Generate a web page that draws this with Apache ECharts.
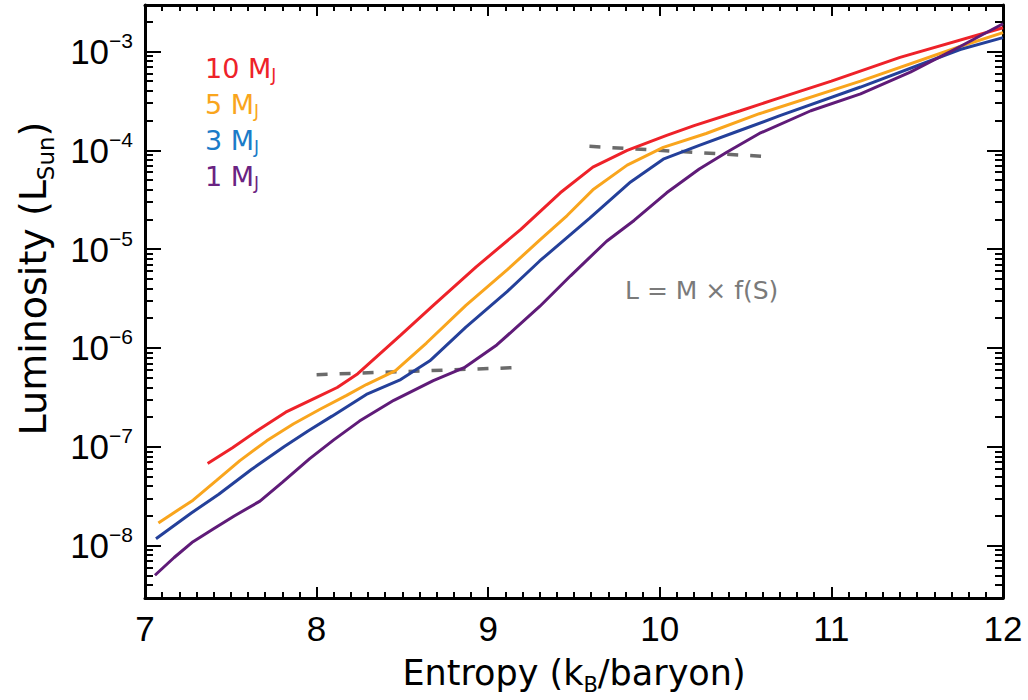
<!DOCTYPE html>
<html lang="en">
<head>
<meta charset="UTF-8">
<title>Luminosity vs entropy</title>
<script src="https://cdn.jsdelivr.net/npm/echarts@6/dist/echarts.min.js"></script>
<style>
  html, body { margin: 0; padding: 0; background: #fff; }
  #main { width: 1028px; height: 700px; }
</style>
</head>
<body>
<div id="main"></div>
<script>
// entropy (k_B/baryon) and log10 luminosity (L_sun)
var S_10 = [7.365, 7.51, 7.66, 7.82, 8.00, 8.12, 8.24, 8.49, 8.68, 8.93, 9.19, 9.42, 9.61, 9.81, 10.04, 10.20, 10.47, 10.68, 11.00, 11.40, 12.00];
var logL_10 = [-7.17, -7.01, -6.83, -6.65, -6.50, -6.40, -6.26, -5.87, -5.57, -5.18, -4.80, -4.43, -4.17, -4.00, -3.85, -3.75, -3.60, -3.48, -3.30, -3.06, -2.76];

var S_5 = [7.078, 7.28, 7.417, 7.553, 7.709, 7.864, 8.02, 8.175, 8.29, 8.46, 8.64, 8.87, 9.11, 9.30, 9.46, 9.61, 9.81, 10.02, 10.27, 10.58, 11.17, 11.75, 12.00];
var logL_5 = [-7.77, -7.54, -7.34, -7.14, -6.94, -6.77, -6.62, -6.48, -6.37, -6.23, -5.95, -5.57, -5.21, -4.91, -4.66, -4.40, -4.15, -3.97, -3.83, -3.63, -3.30, -2.95, -2.81];

var S_3 = [7.064, 7.27, 7.43, 7.62, 7.81, 7.95, 8.09, 8.29, 8.49, 8.66, 8.87, 9.11, 9.30, 9.59, 9.83, 10.02, 10.23, 10.45, 10.70, 11.17, 11.75, 12.00];
var logL_3 = [-7.93, -7.67, -7.48, -7.23, -7.00, -6.84, -6.69, -6.47, -6.32, -6.13, -5.79, -5.43, -5.12, -4.69, -4.32, -4.09, -3.95, -3.81, -3.65, -3.36, -2.98, -2.86];

var S_1 = [7.058, 7.17, 7.28, 7.40, 7.52, 7.67, 7.80, 7.96, 8.10, 8.25, 8.45, 8.68, 8.86, 9.05, 9.30, 9.48, 9.69, 9.85, 10.04, 10.23, 10.39, 10.58, 10.88, 11.17, 11.46, 11.75, 12.00];
var logL_1 = [-8.30, -8.12, -7.96, -7.83, -7.70, -7.55, -7.36, -7.12, -6.93, -6.74, -6.53, -6.33, -6.20, -5.97, -5.58, -5.27, -4.92, -4.71, -4.43, -4.19, -4.02, -3.83, -3.60, -3.43, -3.21, -2.95, -2.72];

// the two dashed guide lines
var guideLowS = [8.00, 9.14];
var guideLowL = [-6.27, -6.20];
var guideHighS = [9.59, 10.59];
var guideHighL = [-3.96, -4.06];

var yDecades = [-8, -7, -6, -5, -4, -3];
var yMin = -8.53, yMax = -2.53;

var colors = ['#ee2229', '#f9a51d', '#24409a', '#5f1b78'];
var labelColors = ['#ee2229', '#f9a51d', '#1b7bc8', '#6a2382'];

function pairs(xs, ys) {
    return xs.map(function (x, i) { return [x, ys[i]]; });
}

// minor ticks at 2..9 x 10^n
var yMinor = [];
for (var n = -9; n <= -3; n++) {
    for (var k = 2; k <= 9; k++) {
        var v = n + Math.log10(k);
        if (v > yMin && v < yMax) yMinor.push(v);
    }
}

var chart = echarts.init(document.getElementById('main'), null, { renderer: 'svg' });

var tickFont = 'Liberation Sans';
var textFont = 'DejaVu Sans';

function xAx(pos, withLabels) {
    return {
        type: 'value', position: pos, min: 7, max: 12, interval: 1,
        axisLine: { onZero: false, lineStyle: { color: '#000', width: 3 } },
        axisTick: { inside: true, length: 11, lineStyle: { color: '#000', width: 2 } },
        minorTick: { show: true, splitNumber: 10, length: 6, lineStyle: { color: '#000', width: 2 } },
        splitLine: { show: false },
        axisLabel: { show: withLabels, margin: 13, fontSize: 35, fontFamily: tickFont, color: '#000' },
        name: withLabels ? '{m|Entropy (k}{s|B}{m|/baryon)}' : '',
        nameLocation: 'middle', nameGap: 52,
        nameTextStyle: {
            rich: {
                m: { fontSize: 35, fontFamily: textFont, color: '#000' },
                s: { fontSize: 21, fontFamily: textFont, color: '#000', padding: [24, 0, 0, 0] }
            }
        }
    };
}

function yAx(pos, major, withLabels) {
    return {
        type: 'value', position: pos, min: yMin, max: yMax,
        axisLine: { show: major, onZero: false, lineStyle: { color: '#000', width: 3 } },
        axisTick: { inside: true, customValues: major ? yDecades : yMinor, length: major ? 16 : 8, lineStyle: { color: '#000', width: 2 } },
        splitLine: { show: false },
        axisLabel: {
            show: withLabels, customValues: yDecades, margin: 12,
            formatter: function (v) { return '{b|10}{e|\u2212' + Math.round(-v) + '}'; },
            rich: {
                b: { fontSize: 35, fontFamily: tickFont, color: '#000' },
                e: { fontSize: 21, fontFamily: tickFont, color: '#000', padding: [0, 0, 22, 0] }
            }
        },
        name: withLabels ? '{m|Luminosity (L}{s|Sun}{m|)}' : '',
        nameLocation: 'middle', nameGap: 88,
        nameTextStyle: {
            padding: [0, 0, 0, 46],
            rich: {
                m: { fontSize: 38, fontFamily: textFont, color: '#000' },
                s: { fontSize: 23, fontFamily: textFont, color: '#000', padding: [25, 0, 0, 0] }
            }
        }
    };
}

var names = ['10 MJ', '5 MJ', '3 MJ', '1 MJ'];
var legendKeys = ['r', 'o', 'b', 'p'];
var legendRich = {};
legendKeys.forEach(function (c, i) {
    legendRich[c] = { fontSize: 27, fontFamily: textFont, color: labelColors[i], lineHeight: 30 };
    legendRich[c + 's'] = { fontSize: 17, fontFamily: textFont, color: labelColors[i], padding: [12, 0, 0, 0] };
});

function curve(name, xs, ys, color) {
    return {
        name: name, type: 'line', data: pairs(xs, ys), showSymbol: false, silent: true,
        lineStyle: { color: color, width: 3 }, itemStyle: { color: color }, z: 3
    };
}

function guide(xs, ys) {
    return {
        type: 'line', data: pairs(xs, ys), showSymbol: false, silent: true,
        lineStyle: { color: '#6b6b6b', width: 3.5, type: [11, 12] }, z: 2
    };
}

chart.setOption({
    backgroundColor: '#fff',
    animation: false,
    grid: { left: 145, right: 25, top: 5, bottom: 98 },
    legend: {
        orient: 'vertical', left: 195, top: 50, icon: 'none', itemWidth: 0, itemHeight: 10, itemGap: 8,
        selectedMode: false,
        data: names,
        formatter: function (name) {
            var c = legendKeys[names.indexOf(name)];
            return '{' + c + '|' + name.replace('J', '') + '}{' + c + 's|J}';
        },
        textStyle: { rich: legendRich }
    },
    xAxis: [xAx('bottom', true), xAx('top', false)],
    yAxis: [yAx('left', true, true), yAx('left', false, false), yAx('right', true, false), yAx('right', false, false)],
    graphic: [{
        type: 'text', left: 625, top: 278, silent: true,
        style: { text: 'L = M \u00d7 f(S)', fontSize: 25, fontFamily: textFont, fill: '#7a7a7a' }
    }],
    series: [
        guide(guideLowS, guideLowL),
        guide(guideHighS, guideHighL),
        curve(names[0], S_10, logL_10, colors[0]),
        curve(names[1], S_5, logL_5, colors[1]),
        curve(names[2], S_3, logL_3, colors[2]),
        curve(names[3], S_1, logL_1, colors[3])
    ]
});
</script>
</body>
</html>
